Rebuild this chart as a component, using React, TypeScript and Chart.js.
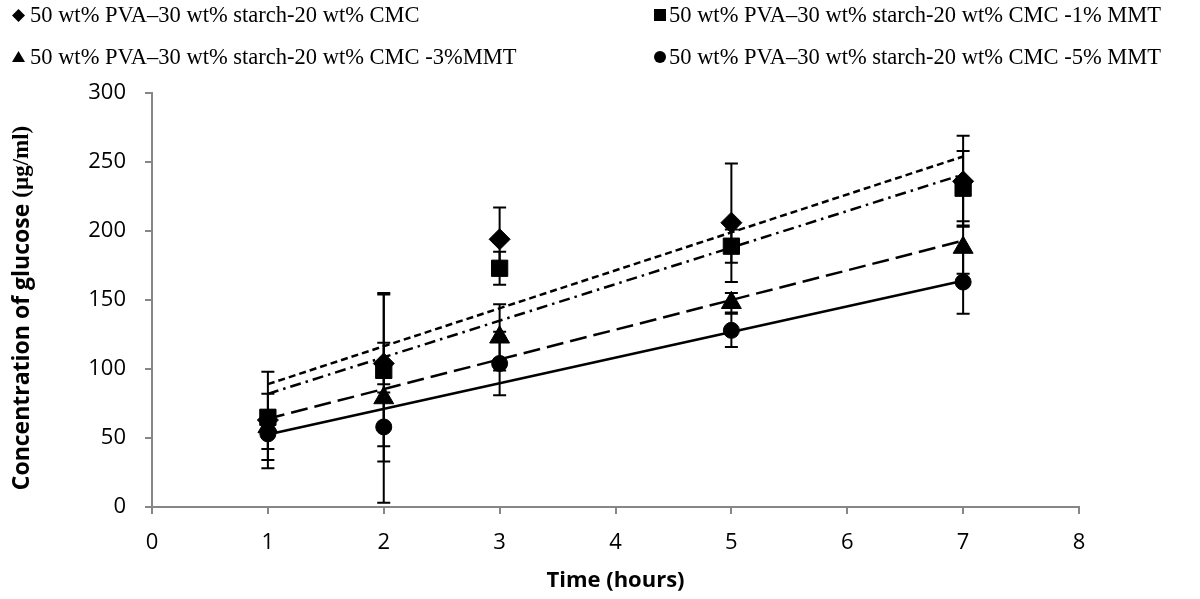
import React, { useEffect, useRef } from 'react';
import { Chart, registerables } from 'chart.js';

Chart.register(...registerables);

// ---- data ----
const times = [1, 2, 3, 5, 7];

const labelBase = '50 wt% PVA–30 wt% starch-20 wt% CMC';
const labelMMT1 = '50 wt% PVA–30 wt% starch-20 wt% CMC -1% MMT';
const labelMMT3 = '50 wt% PVA–30 wt% starch-20 wt% CMC -3%MMT';
const labelMMT5 = '50 wt% PVA–30 wt% starch-20 wt% CMC -5% MMT';

const baseValues = [63, 104, 194, 206, 236];
const baseErrors = [35, 15, 23, 43, 33];
const mmt1Values = [65, 99, 173, 189, 231];
const mmt1Errors = [5, 55, 12, 12, 27];
const mmt3Values = [58, 79, 123, 148, 188];
const mmt3Errors = [24, 76, 24, 7, 19];
const mmt5Values = [53, 58, 104, 128, 163];
const mmt5Errors = [11, 25, 23, 12, 23];

// linear trend lines (start / end values read at x = 1 and x = 7)
const trendTimes = [1, 7];
const baseTrend = [89, 254];
const mmt1Trend = [82, 241];
const mmt3Trend = [64, 193];
const mmt5Trend = [52.5, 164];

const xTickValues = [0, 1, 2, 3, 4, 5, 6, 7, 8];
const yTickValues = [0, 50, 100, 150, 200, 250, 300];

const xTitle = 'Time (hours)';
const yTitleMain = 'Concentration of glucose ';
const yTitleUnit = '(µg/ml)';

const AXIS_GREY = '#868686';
const TICK_FONT = { family: 'Open Sans', size: 22 };
const TITLE_FONT = { family: 'Open Sans', size: 22, weight: 'bold' as const };

const toPoints = (xs: number[], ys: number[]) => xs.map((x, i) => ({ x, y: ys[i] }));

const errorBarPlugin = {
  id: 'errorBars',
  afterDatasetsDraw(chart: any) {
    const { ctx } = chart;
    const xs = chart.scales.x;
    const ys = chart.scales.y;
    ctx.save();
    ctx.strokeStyle = '#000';
    ctx.lineWidth = 2;
    chart.data.datasets.forEach((ds: any) => {
      if (!ds.errors) return;
      ds.data.forEach((p: any, i: number) => {
        const e = ds.errors[i];
        const px = xs.getPixelForValue(p.x);
        const top = ys.getPixelForValue(p.y + e);
        const bot = ys.getPixelForValue(p.y - e);
        ctx.beginPath();
        ctx.moveTo(px, top);
        ctx.lineTo(px, bot);
        ctx.moveTo(px - 6.5, top);
        ctx.lineTo(px + 6.5, top);
        ctx.moveTo(px - 6.5, bot);
        ctx.lineTo(px + 6.5, bot);
        ctx.stroke();
      });
    });
    ctx.restore();
  },
};

// y-axis title drawn as two runs (sans + serif), like the reference
const yTitlePlugin = {
  id: 'yTitle',
  afterDraw(chart: any) {
    const { ctx, chartArea } = chart;
    const f1 = 'bold 23px "Open Sans"';
    const f2 = 'bold 23px "Liberation Serif"';
    ctx.save();
    ctx.font = f1;
    const w1 = ctx.measureText(yTitleMain).width;
    ctx.font = f2;
    const w2 = ctx.measureText(yTitleUnit).width;
    const total = w1 + w2;
    const cy = (chartArea.top + chartArea.bottom) / 2 + 8;
    ctx.translate(22, cy);
    ctx.rotate(-Math.PI / 2);
    ctx.fillStyle = '#000';
    ctx.textBaseline = 'middle';
    ctx.textAlign = 'left';
    ctx.font = f1;
    ctx.fillText(yTitleMain, -total / 2, 0);
    ctx.font = f2;
    ctx.fillText(yTitleUnit, -total / 2 + w1, 0);
    ctx.restore();
  },
};

function Marker({ kind }: { kind: string }) {
  const common = { display: 'block' } as React.CSSProperties;
  if (kind === 'diamond')
    return (
      <svg width="13" height="13" style={common}>
        <polygon points="6.5,0 13,6.5 6.5,13 0,6.5" fill="#000" />
      </svg>
    );
  if (kind === 'square')
    return (
      <svg width="12" height="12" style={common}>
        <rect x="0" y="0" width="12" height="12" fill="#000" />
      </svg>
    );
  if (kind === 'triangle')
    return (
      <svg width="13" height="11" style={common}>
        <polygon points="6.5,0 13,11 0,11" fill="#000" />
      </svg>
    );
  return (
    <svg width="12" height="12" style={common}>
      <circle cx="6" cy="6" r="6" fill="#000" />
    </svg>
  );
}

const legendItems = [
  { label: labelBase, kind: 'diamond', mx: 11.5, my: 8.5, tx: 30, ty: 4 },
  { label: labelMMT1, kind: 'square', mx: 654, my: 9, tx: 669, ty: 4 },
  { label: labelMMT3, kind: 'triangle', mx: 11.5, my: 51, tx: 30, ty: 46 },
  { label: labelMMT5, kind: 'circle', mx: 654, my: 51, tx: 669, ty: 46 },
];

export default function App() {
  const canvasRef = useRef<HTMLCanvasElement | null>(null);

  useEffect(() => {
    if (!canvasRef.current) return;
    const scatter = (label: string, ys: number[], errs: number[], style: any, r: number) => ({
      label,
      data: toPoints(times, ys),
      errors: errs,
      pointStyle: style,
      pointRadius: r,
      pointHoverRadius: r,
      backgroundColor: '#000',
      borderColor: '#000',
      borderWidth: 1,
      showLine: false,
      order: 1,
    });
    const trend = (label: string, ys: number[], dash: number[]) => ({
      label,
      data: toPoints(trendTimes, ys),
      showLine: true,
      borderColor: '#000',
      borderWidth: 2.5,
      borderDash: dash,
      pointRadius: 0,
      fill: false,
      order: 2,
    });

    const chart = new Chart(canvasRef.current, {
      type: 'scatter',
      data: {
        datasets: [
          trend('Linear (' + labelBase + ')', baseTrend, [7, 4]),
          trend('Linear (' + labelMMT1 + ')', mmt1Trend, [11, 5, 2.5, 5]),
          trend('Linear (' + labelMMT3 + ')', mmt3Trend, [17, 7]),
          trend('Linear (' + labelMMT5 + ')', mmt5Trend, []),
          scatter(labelBase, baseValues, baseErrors, 'rectRot', 10.5),
          scatter(labelMMT1, mmt1Values, mmt1Errors, 'rect', 11.5),
          scatter(labelMMT3, mmt3Values, mmt3Errors, 'triangle', 11.5),
          scatter(labelMMT5, mmt5Values, mmt5Errors, 'circle', 8),
        ] as any,
      },
      options: {
        animation: false,
        responsive: true,
        maintainAspectRatio: false,
        layout: { padding: { top: 93, right: 121, bottom: 0, left: 0 } },
        plugins: {
          legend: { display: false },
          tooltip: { enabled: false },
        },
        scales: {
          x: {
            type: 'linear',
            min: 0,
            max: 8,
            afterBuildTicks: (axis: any) => {
              axis.ticks = xTickValues.map((v) => ({ value: v }));
            },
            afterFit: (axis: any) => {
              axis.height = 92;
            },
            ticks: { color: '#000', font: TICK_FONT, padding: 16, maxRotation: 0 },
            grid: { drawOnChartArea: false, drawTicks: true, tickLength: 7, color: AXIS_GREY, lineWidth: 2 },
            border: { color: AXIS_GREY, width: 2 },
            title: { display: true, text: xTitle, color: '#000', font: TITLE_FONT, padding: { top: 0, bottom: 5 } },
          },
          y: {
            type: 'linear',
            min: 0,
            max: 300,
            afterBuildTicks: (axis: any) => {
              axis.ticks = yTickValues.map((v) => ({ value: v }));
            },
            afterFit: (axis: any) => {
              axis.width = 152;
            },
            ticks: { color: '#000', font: TICK_FONT, padding: 19 },
            grid: { drawOnChartArea: false, drawTicks: true, tickLength: 7, color: AXIS_GREY, lineWidth: 2 },
            border: { color: AXIS_GREY, width: 2 },
            title: { display: false },
          },
        },
      } as any,
      plugins: [errorBarPlugin, yTitlePlugin],
    });
    return () => chart.destroy();
  }, []);

  return (
    <div style={{ position: 'fixed', left: 0, top: 0, width: 1200, height: 599, background: '#fff' }}>
      <canvas ref={canvasRef} style={{ position: 'absolute', left: 0, top: 0, width: 1200, height: 599 }} />
      {legendItems.map((it) => (
        <React.Fragment key={it.label}>
          <div style={{ position: 'absolute', left: it.mx, top: it.my }}>
            <Marker kind={it.kind} />
          </div>
          <div
            style={{
              position: 'absolute',
              left: it.tx,
              top: it.ty,
              fontFamily: '"Liberation Serif", serif',
              fontSize: 22.5,
              lineHeight: '22px',
              whiteSpace: 'nowrap',
              color: '#000',
            }}
          >
            {it.label}
          </div>
        </React.Fragment>
      ))}
    </div>
  );
}
